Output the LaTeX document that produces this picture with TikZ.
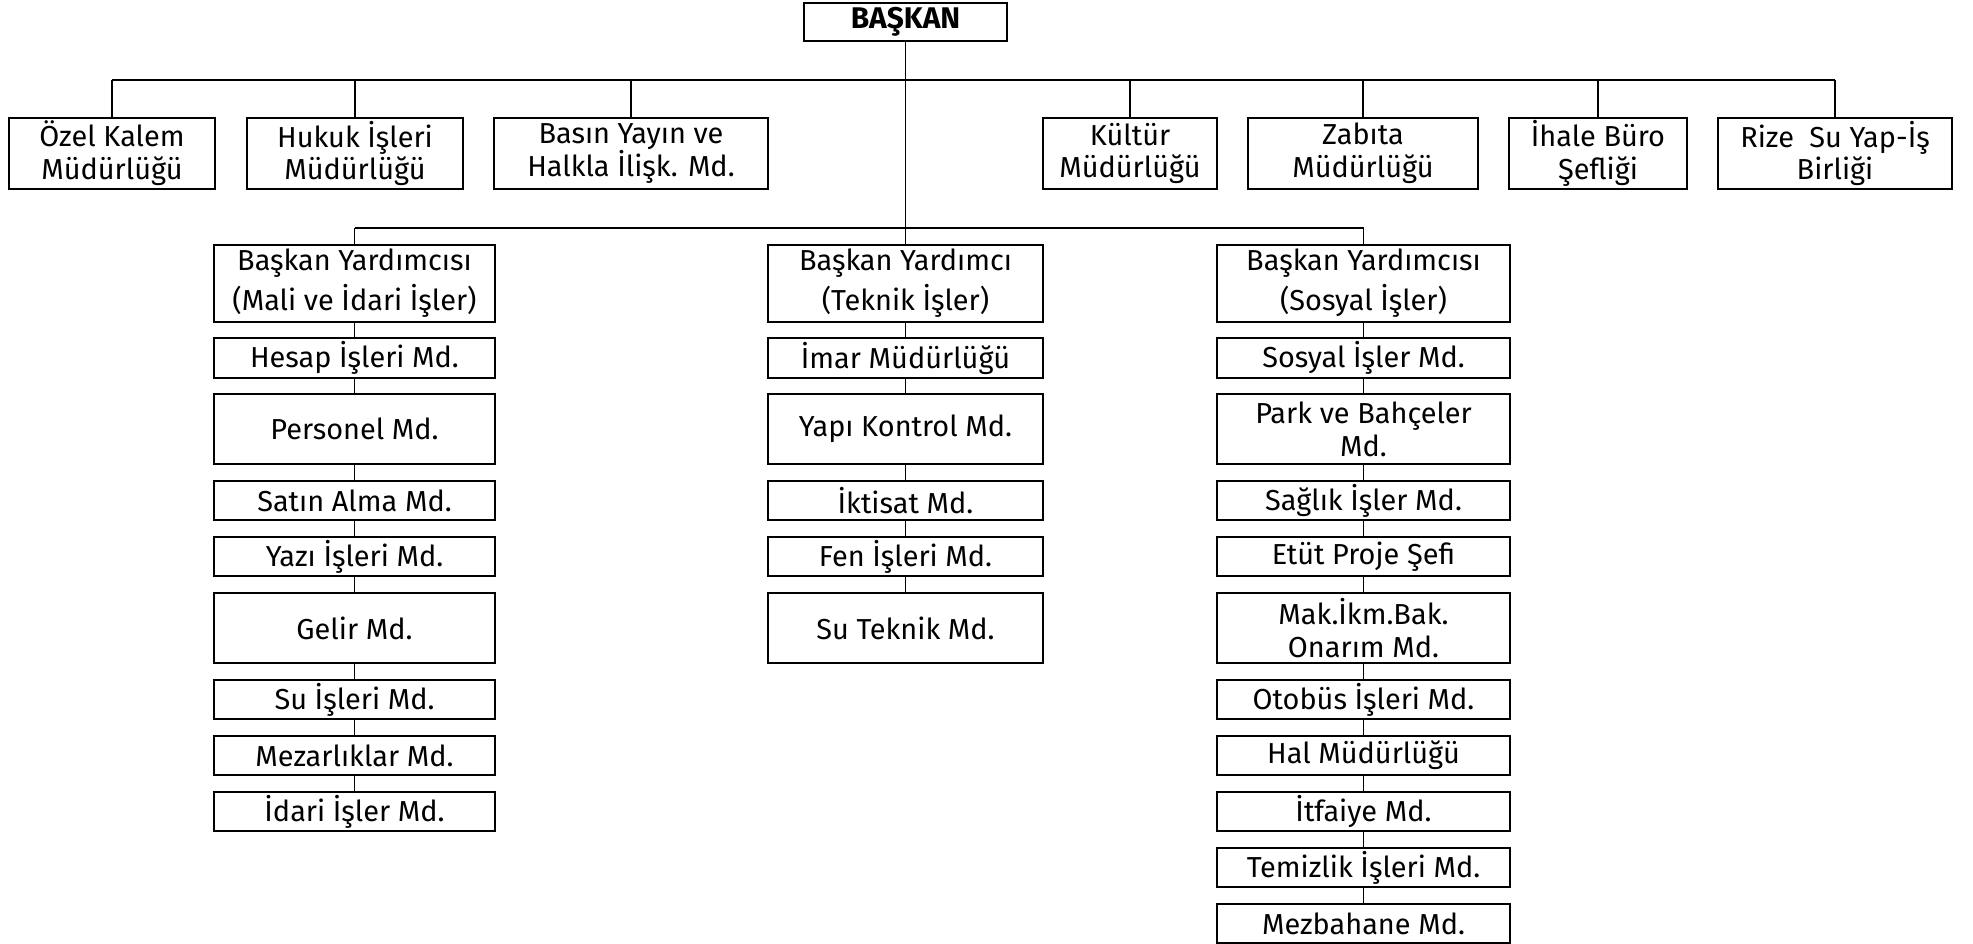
\documentclass[tikz,border=0pt]{standalone}
\usepackage{fontspec}
\setmainfont{Fira Sans}
\tikzset{
  unit/.style={draw, line width=2bp, inner sep=0pt, align=center, font=\fontsize{29}{33}\selectfont},
  deputy/.style={unit, minimum height=77bp, font=\fontsize{29}{40}\selectfont},
  link/.style={line width=1.7bp},
  bar/.style={line width=2.4bp}
}
\begin{document}
\begin{tikzpicture}[x=1bp, y=-1bp]
    \useasboundingbox (0,0) rectangle (1973,944);

    \node[unit, minimum width=203bp, minimum height=38bp, font=\bfseries\fontsize{30}{36}\selectfont] (baskan) at (905.5,22) {BAŞKAN};
    \coordinate (topbar) at (905.5,80);
    \coordinate (midbar) at (905.5,228);

    \foreach \n/\x/\w/\t in {ozel/112/206/{Özel Kalem\\Müdürlüğü}, hukuk/355/216/{Hukuk İşleri\\Müdürlüğü},
        basin/631/274/{Basın Yayın ve\\Halkla İlişk. Md.}, kultur/1130/174/{Kültür\\Müdürlüğü},
        zabita/1363/230/{Zabıta\\Müdürlüğü}, ihale/1598/178/{İhale Büro\\Şefliği},
        rize/1835/234/{Rize\ \ Su Yap-İş\\Birliği}}{
        \node[unit, minimum width=\w bp, minimum height=71bp] (\n) at (\x,153.5) {\t};
        \draw[link] (\n.north) -- (\n.north |- topbar);
    }
    \draw[bar] (ozel.north |- topbar) -- (rize.north |- topbar);

    \node[deputy, minimum width=281bp] (by1) at (354.5,283.5) {Başkan Yardımcısı\\(Mali ve İdari İşler)};
    \node[deputy, minimum width=275bp] (by2) at (905.5,283.5) {Başkan Yardımcı\\(Teknik İşler)};
    \node[deputy, minimum width=293bp] (by3) at (1363.5,283.5) {Başkan Yardımcısı\\(Sosyal İşler)};

    \draw[link] (baskan.south) -- (by2.north);
    \draw[bar] (by1.north |- midbar) -- (by3.north |- midbar);
    \draw[link] (by1.north |- midbar) -- (by1.north);
    \draw[link] (by3.north |- midbar) -- (by3.north);

    \foreach \n/\y/\h/\t [remember=\n as \p (initially by1)] in {l1/358/40/{Hesap İşleri Md.},
        l2/429/70/{Personel Md.}, l3/500.5/39/{Satın Alma Md.}, l4/556.5/39/{Yazı İşleri Md.},
        l5/628/70/{Gelir Md.}, l6/699.5/39/{Su İşleri Md.}, l7/755.5/39/{Mezarlıklar Md.},
        l8/811.5/39/{İdari İşler Md.}}{
        \node[unit, minimum width=281bp, minimum height=\h bp] (\n) at (354.5,\y) {\t};
        \draw[link] (\p.south) -- (\n.north);
    }

    \foreach \n/\y/\h/\t [remember=\n as \p (initially by2)] in {m1/358/40/{İmar Müdürlüğü},
        m2/429/70/{Yapı Kontrol Md.}, m3/500.5/39/{İktisat Md.}, m4/556.5/39/{Fen İşleri Md.},
        m5/628/70/{Su Teknik Md.}}{
        \node[unit, minimum width=275bp, minimum height=\h bp] (\n) at (905.5,\y) {\t};
        \draw[link] (\p.south) -- (\n.north);
    }

    \foreach \n/\y/\h/\t [remember=\n as \p (initially by3)] in {r1/358/40/{Sosyal İşler Md.},
        r2/429/70/{Park ve Bahçeler\\Md.}, r3/500.5/39/{Sağlık İşler Md.}, r4/556.5/39/{Etüt Proje Şefi},
        r5/628/70/{Mak.İkm.Bak.\\Onarım Md.}, r6/699.5/39/{Otobüs İşleri Md.}, r7/755.5/39/{Hal Müdürlüğü},
        r8/811.5/39/{İtfaiye Md.}, r9/867.5/39/{Temizlik İşleri Md.}, r10/923.5/39/{Mezbahane Md.}}{
        \node[unit, minimum width=293bp, minimum height=\h bp] (\n) at (1363.5,\y) {\t};
        \draw[link] (\p.south) -- (\n.north);
    }
\end{tikzpicture}
\end{document}
